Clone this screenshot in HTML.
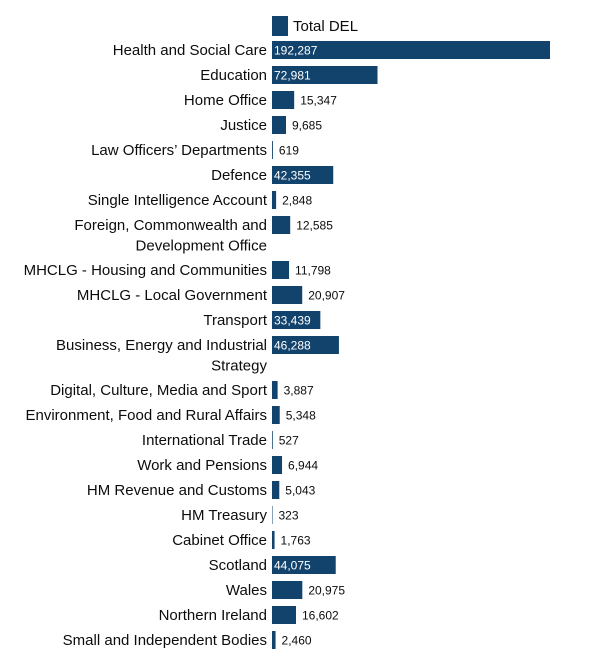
<!DOCTYPE html>
<html><head><meta charset="utf-8"><style>
body{margin:0;background:#fff;width:610px;height:670px;overflow:hidden}
svg{display:block;font-family:"Liberation Sans",sans-serif}
</style></head><body>
<svg id="chart" width="610" height="670">
<rect x="272" y="16" width="16" height="20" fill="#12436d"/>
<text x="293" y="31" font-size="15" fill="#0b0c0c">Total DEL</text>
<g id="bars"></g>
</svg>
<script>
const categories=[["Health and Social Care"],["Education"],["Home Office"],["Justice"],["Law Officers’ Departments"],["Defence"],["Single Intelligence Account"],["Foreign, Commonwealth and","Development Office"],["MHCLG - Housing and Communities"],["MHCLG - Local Government"],["Transport"],["Business, Energy and Industrial","Strategy"],["Digital, Culture, Media and Sport"],["Environment, Food and Rural Affairs"],["International Trade"],["Work and Pensions"],["HM Revenue and Customs"],["HM Treasury"],["Cabinet Office"],["Scotland"],["Wales"],["Northern Ireland"],["Small and Independent Bodies"]];
const values=[192287,72981,15347,9685,619,42355,2848,12585,11798,20907,33439,46288,3887,5348,527,6944,5043,323,1763,44075,20975,16602,2460];
const x0=272, xMax=192287, wMax=278;
const xs=v=>v/xMax*wMax;
const g=document.getElementById('bars');
const NS='http://www.w3.org/2000/svg';
let y=41;
categories.forEach((c,i)=>{
  const w=Math.max(xs(values[i]),0.5);
  const r=document.createElementNS(NS,'rect');
  r.setAttribute('x',x0);r.setAttribute('y',y);r.setAttribute('width',w);r.setAttribute('height',18);r.setAttribute('fill','#12436d');
  
  
  g.appendChild(r);
  c.forEach((line,j)=>{
    const t=document.createElementNS(NS,'text');
    t.setAttribute('x',267);t.setAttribute('y',y+14+j*20.5);t.setAttribute('text-anchor','end');t.setAttribute('font-size','15');t.setAttribute('fill','#0b0c0c');
    t.textContent=line;
    
    
    g.appendChild(t);
  });
  const inside=w>40;
  const v=document.createElementNS(NS,'text');
  v.setAttribute('x',inside?x0+2:x0+w+6);v.setAttribute('y',y+13.5);v.setAttribute('font-size','12');v.setAttribute('fill',inside?'#fff':'#0b0c0c');
  v.textContent=values[i].toLocaleString('en-GB');
  
  
  g.appendChild(v);
  y+= c.length>1 ? 45 : 25;
});
</script>
</body></html>
